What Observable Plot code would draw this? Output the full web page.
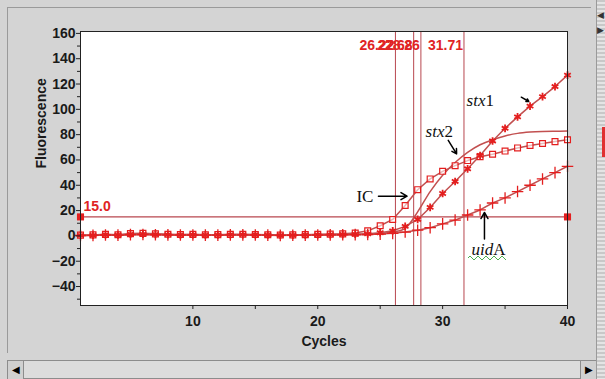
<!DOCTYPE html>
<html>
<head>
<meta charset="utf-8">
<script src="https://cdn.jsdelivr.net/npm/d3@7"></script>
<script src="https://cdn.jsdelivr.net/npm/@observablehq/plot@0.6"></script>
<style>
  body { margin: 0; background: #d4d4d4; }
  #wrap { position: relative; width: 605px; height: 379px; overflow: hidden; background: #d4d4d4; }
  #chart { position: absolute; left: 0; top: 0; }
  .abs { position: absolute; box-sizing: border-box; }
</style>
</head>
<body>
<div id="wrap">
  <div class="abs" style="left:7px;top:7px;width:584px;height:346px;border-top:1px solid #9a9a9a;border-left:1px solid #9a9a9a;"></div>
  <div id="chart"></div>
  <!-- bottom scrollbar -->
  <div class="abs" style="left:7px;top:360px;width:590px;height:19px;background:#dcdcdc;border:1px solid #8c8c8c;"></div>
  <div class="abs" style="left:8px;top:361px;width:16px;height:18px;background:#d0d0d0;border-right:1px solid #8c8c8c;font:10px sans-serif;line-height:18px;text-align:center;color:#000;">&#9664;</div>
  <div class="abs" style="left:580px;top:361px;width:16px;height:18px;background:#d0d0d0;border-left:1px solid #8c8c8c;font:10px sans-serif;line-height:18px;text-align:center;color:#000;">&#9654;</div>
  <!-- right scrollbar -->
  <div class="abs" style="left:596px;top:0px;width:9px;height:379px;background:repeating-linear-gradient(180deg,#c8c8c8 0 2px,#e4e4e4 2px 4px);border-left:1px solid #9a9a9a;"></div>
  <div class="abs" style="left:597px;top:9px;width:8px;height:12px;font:9px sans-serif;line-height:12px;color:#333;">&#9664;</div>
  <div class="abs" style="left:597px;top:24px;width:8px;height:12px;font:9px sans-serif;line-height:12px;color:#333;">&#9654;</div>
  <div class="abs" style="left:602px;top:127px;width:3px;height:30px;background:#e03030;"></div>
  <!-- spell-check squiggle under uidA -->
  <svg class="abs" style="left:468px;top:255px;" width="40" height="6" viewBox="0 0 40 6">
    <path d="M0,3 l2,-2 l2,2 l2,2 l2,-2 l2,-2 l2,2 l2,2 l2,-2 l2,-2 l2,2 l2,2 l2,-2 l2,-2 l2,2 l2,2 l2,-2 l2,-2 l2,2 l2,2" fill="none" stroke="#4caf50" stroke-width="1"/>
  </svg>
</div>
<script>
// ---- data ----
const cycles = d3.range(1, 41);
const icValues = [0.6,0.8,1.2,0.9,1.8,2.0,1.6,1.3,1.1,1.2,0.9,1.0,1.2,1.3,1.1,0.9,0.7,0.8,1.0,1.2,1.4,1.6,2.2,4,8,13,24,36.5,45,51,55.5,59.5,62.5,64.5,67,69.5,71.5,73,74.5,76];
const stx2Values = [0.5,0.6,0.8,0.8,1.0,1.2,1.1,1.0,0.9,0.9,0.8,0.8,0.9,1.0,0.9,0.8,0.6,0.6,0.7,0.8,0.9,1.0,1.1,1.3,1.8,3,6,19,35,48,58,66,72,76,79,81,82,82.5,82.7,82.8];
const stx1Values = [0.4,0.5,0.9,0.7,1.3,1.4,1.2,1.0,0.8,0.9,0.7,0.8,1.0,1.0,0.9,0.7,0.5,0.6,0.8,0.9,1.0,1.2,1.4,1.6,2.5,4,7.5,13,22.5,33.5,43,53,63.5,75,85,94,102.5,110,118,127];
const uidAValues = [0.3,0.4,0.7,0.6,1.0,1.1,0.9,0.8,0.7,0.7,0.6,0.6,0.8,0.8,0.7,0.6,0.4,0.5,0.6,0.7,0.8,0.9,1.0,1.1,1.4,2,3,4.5,6.5,9.5,12.5,16.5,20.5,26,30,35,40,45,50,55];
const ctValues = [26.22, 27.68, 28.26, 31.71];
const ctLabels = ["26.22", "27.68", "28.26", "31.71"];
const threshold = 15;
const thresholdLabel = "15.0";
const thresholdEnds = [1, 40];
const yTicks = [-40, -20, 0, 20, 40, 60, 80, 100, 120, 140, 160];
const yMinorTicks = [-50, -30, -10, 10, 30, 50, 70, 90, 110, 130, 150];
const xTicks = [10, 20, 30, 40];
const xMinorTicks = [15, 25, 35];
// annotations (data coordinates)
const notesItalic = [
  {text: "stx", x: 33.43, y: 107},
  {text: "stx", x: 30.15, y: 82.5},
  {text: "uid", x: 34.05, y: -10.7}
];
const notesUpright = [
  {text: "1", x: 33.43, y: 107},
  {text: "2", x: 30.15, y: 82.5},
  {text: "A", x: 34.05, y: -10.7}
];
const notesCentered = [{text: "IC", x: 23.78, y: 30.7}];
const arrows = [
  {x1: 24.86, y1: 31.4, x2: 27.15, y2: 31.4},
  {x1: 30.45, y1: 75.5, x2: 31.12, y2: 64.8},
  {x1: 33.35, y1: -2.5, x2: 33.35, y2: 18.5},
  {x1: 36.3, y1: 109.6, x2: 36.9, y2: 106.2}
];

const table = (name, vals) => cycles.map((c, i) => ({cycle: c, value: vals[i], series: name}));
const ic = table("IC", icValues);
const stx2 = table("stx2", stx2Values);
const stx1 = table("stx1", stx1Values);
const uidA = table("uidA", uidAValues);

const lineColor = "#c25050";
const ruleColor = "#b8474f";
const markColor = "#e41e1e";
const labelColor = "#e02424";
const axisFont = "Liberation Sans, Arial, sans-serif";
const serif = "Liberation Serif, Times New Roman, serif";

const chart = Plot.plot({
  width: 605,
  height: 379,
  marginLeft: 80,
  marginRight: 38,
  marginTop: 31,
  marginBottom: 74,
  x: {domain: [1, 40]},
  y: {domain: [-55, 161.5]},
  style: {background: "transparent", fontFamily: axisFont, color: "#1a1a1a", overflow: "visible"},
  marks: [
    Plot.frame({fill: "white", stroke: null}),
    Plot.ruleX(ctValues, {stroke: ruleColor, strokeWidth: 1}),
    Plot.ruleY([threshold], {stroke: ruleColor, strokeWidth: 1.2}),
    Plot.line(stx2, {x: "cycle", y: "value", stroke: lineColor, strokeWidth: 1.5, curve: "catmull-rom"}),
    Plot.line(ic, {x: "cycle", y: "value", stroke: lineColor, strokeWidth: 1.5}),
    Plot.line(stx1, {x: "cycle", y: "value", stroke: lineColor, strokeWidth: 1.5}),
    Plot.line(uidA, {x: "cycle", y: "value", stroke: lineColor, strokeWidth: 1.5}),
    Plot.dot(ic, {x: "cycle", y: "value", symbol: "square", r: 3.3, fill: "white", fillOpacity: 0.6, stroke: markColor, strokeWidth: 1.2}),
    Plot.dot(stx1, {x: "cycle", y: "value", symbol: "asterisk", r: 3.6, stroke: markColor, strokeWidth: 1.8}),
    Plot.dot(uidA, {x: "cycle", y: "value", symbol: "plus", r: 3.8, stroke: markColor, strokeWidth: 1.3}),
    Plot.dot(thresholdEnds, {x: d => d, y: () => threshold, symbol: "square", r: 4, fill: markColor, stroke: null}),
    Plot.text([thresholdLabel], {x: () => 1, y: () => threshold, text: d => d, textAnchor: "start", dx: 3, dy: -10, fill: labelColor, fontWeight: "bold", fontSize: 14}),
    Plot.text(ctValues, {x: d => d, text: (d, i) => ctLabels[i], frameAnchor: "top", textAnchor: "end", dx: -1, dy: 9, fill: labelColor, fontWeight: "bold", fontSize: 14}),
    Plot.frame({stroke: "#222", strokeWidth: 1}),
    Plot.axisY({ticks: yTicks, tickSize: 4, tickPadding: 1, fontSize: 14, fontWeight: "bold", label: null, stroke: "#222"}),
    Plot.axisY({ticks: yMinorTicks, tickSize: 3, text: null, label: null, stroke: "#222"}),
    Plot.axisX({ticks: xTicks, tickSize: 4, tickPadding: 7, fontSize: 14, fontWeight: "bold", label: null, stroke: "#222"}),
    Plot.axisX({ticks: xMinorTicks, tickSize: 4, text: null, label: null, stroke: "#222"}),
    Plot.text(["Fluorescence"], {frameAnchor: "left", dx: -39, rotate: -90, text: d => d, fontWeight: "bold", fontSize: 14, fill: "#1a1a1a"}),
    Plot.text(["Cycles"], {frameAnchor: "bottom", dy: 40, text: d => d, fontWeight: "bold", fontSize: 14, fill: "#1a1a1a"}),
    Plot.arrow(arrows, {x1: "x1", y1: "y1", x2: "x2", y2: "y2", stroke: "black", strokeWidth: 1.5, headLength: 7}),
    Plot.text(notesItalic, {x: "x", y: "y", text: "text", textAnchor: "end", fontFamily: serif, fontStyle: "italic", fontSize: 17, fill: "#111"}),
    Plot.text(notesUpright, {x: "x", y: "y", text: "text", textAnchor: "start", fontFamily: serif, fontSize: 17, fill: "#111"}),
    Plot.text(notesCentered, {x: "x", y: "y", text: "text", fontFamily: serif, fontSize: 17, fill: "#111"})
  ]
});
document.getElementById("chart").appendChild(chart);
</script>
</body>
</html>
